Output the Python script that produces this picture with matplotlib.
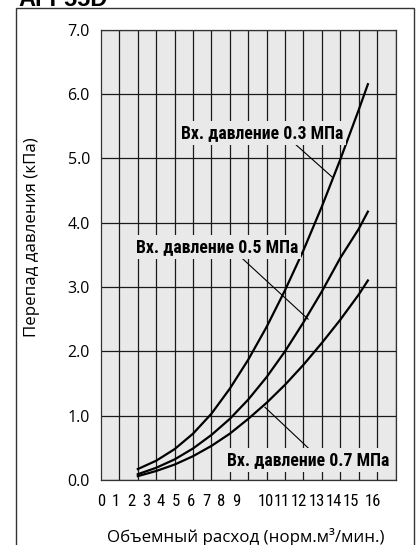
import matplotlib
matplotlib.use('Agg')
import matplotlib.pyplot as plt
from matplotlib import font_manager
from matplotlib.patches import Rectangle

def pick_font(names):
    installed = {f.name for f in font_manager.fontManager.ttflist}
    for n in names:
        if n in installed:
            return n
    return 'DejaVu Sans'

NARROW = pick_font(['Liberation Sans Narrow', 'Roboto Condensed', 'Liberation Sans'])
PLAIN = pick_font(['Open Sans', 'Noto Sans', 'DejaVu Sans'])
BOLD = pick_font(['Liberation Sans', 'DejaVu Sans'])

# flow, norm. m3/min
flow = [2, 3, 4, 5, 6, 7, 8, 9, 10, 11, 12, 13, 14, 14.5]
# pressure drop, kPa
dp_03 = [0.17, 0.30, 0.48, 0.72, 1.03, 1.42, 1.87, 2.38, 2.95, 3.57, 4.25, 4.98, 5.75, 6.15]
dp_05 = [0.09, 0.19, 0.32, 0.49, 0.70, 0.95, 1.25, 1.60, 2.00, 2.45, 2.93, 3.45, 3.90, 4.17]
dp_07 = [0.06, 0.14, 0.24, 0.37, 0.53, 0.72, 0.95, 1.20, 1.48, 1.79, 2.13, 2.49, 2.88, 3.10]

x_labels = [str(i) for i in range(17)]
y_labels = ['0.0', '1.0', '2.0', '3.0', '4.0', '5.0', '6.0', '7.0']
series_labels = ['Вх. давление 0.3 МПа', 'Вх. давление 0.5 МПа', 'Вх. давление 0.7 МПа']

# the printed x labels drift away from the grid lines in the original
x_label_pos = [0, 0.82, 1.63, 2.45, 3.26, 4.08, 4.89, 5.71, 6.52, 7.34,
               8.97, 9.84, 10.76, 11.74, 12.66, 13.59, 14.78]

bg = '#e9e9e9'
fig = plt.figure(figsize=(4.17, 5.45), dpi=100)
fig.patch.set_facecolor('white')

# outer frame of the catalogue box
fig.patches.append(Rectangle((16 / 417, -0.05), 398 / 417, 0.05 + 537 / 545,
                             transform=fig.transFigure, fill=False,
                             edgecolor='#333333', linewidth=1.0))
# heading is cut by the page edge in the original too
fig.text(18 / 417, 1 - 6 / 545, 'AFF55D', fontsize=17, fontweight='bold',
         family=BOLD, va='baseline', ha='left')

ax = fig.add_axes([101 / 417, 65 / 545, 294.5 / 417, 450.5 / 545])
ax.set_facecolor(bg)
ax.set_xlim(0, 16)
ax.set_ylim(0, 7)

ax.set_xticks(range(17), minor=True)
ax.set_xticks(x_label_pos, x_labels)
ax.set_yticks(range(8), y_labels)
ax.grid(which='minor', axis='x', color='#1a1a1a', linewidth=0.9)
ax.grid(which='major', axis='y', color='#1a1a1a', linewidth=0.9)
ax.tick_params(which='both', length=0)
ax.tick_params(axis='x', pad=10)
ax.tick_params(axis='y', pad=8)
for t in ax.get_xticklabels():
    t.set_family(NARROW)
    t.set_fontsize(12)
for t in ax.get_yticklabels():
    t.set_family(PLAIN)
    t.set_fontsize(11.5)
for s in ax.spines.values():
    s.set_color('#333333')
    s.set_linewidth(0.9)

for dp in (dp_03, dp_05, dp_07):
    ax.plot(flow, dp, color='black', linewidth=1.6, zorder=3)

# leader lines and labels
leaders = [((10.43, 5.25), (12.55, 4.71)),
           ((7.61, 3.46), (11.25, 2.50)),
           ((8.91, 1.13), (11.25, 0.50))]
label_xy = [(8.78, 5.39), (6.33, 3.62), (11.28, 0.31)]
for (p0, p1), xy, txt in zip(leaders, label_xy, series_labels):
    ax.plot([p0[0], p1[0]], [p0[1], p1[1]], color='black', linewidth=0.8, zorder=3)
    ax.text(xy[0], xy[1], txt, ha='center', va='center', fontsize=12.8,
            fontweight='bold', family=NARROW, zorder=4,
            bbox=dict(boxstyle='square,pad=0.15', facecolor=bg, edgecolor='none'))

fig.text(32 / 417, 1 - 237 / 545, 'Перепад давления (кПа)', rotation=90,
         ha='center', va='center', fontsize=12.2, family=PLAIN)
fig.text(246 / 417, 1 - 537 / 545, 'Объемный расход (норм.м³/мин.)',
         ha='center', va='center', fontsize=12.2, family=PLAIN)

fig.savefig('out.png', dpi=100)
